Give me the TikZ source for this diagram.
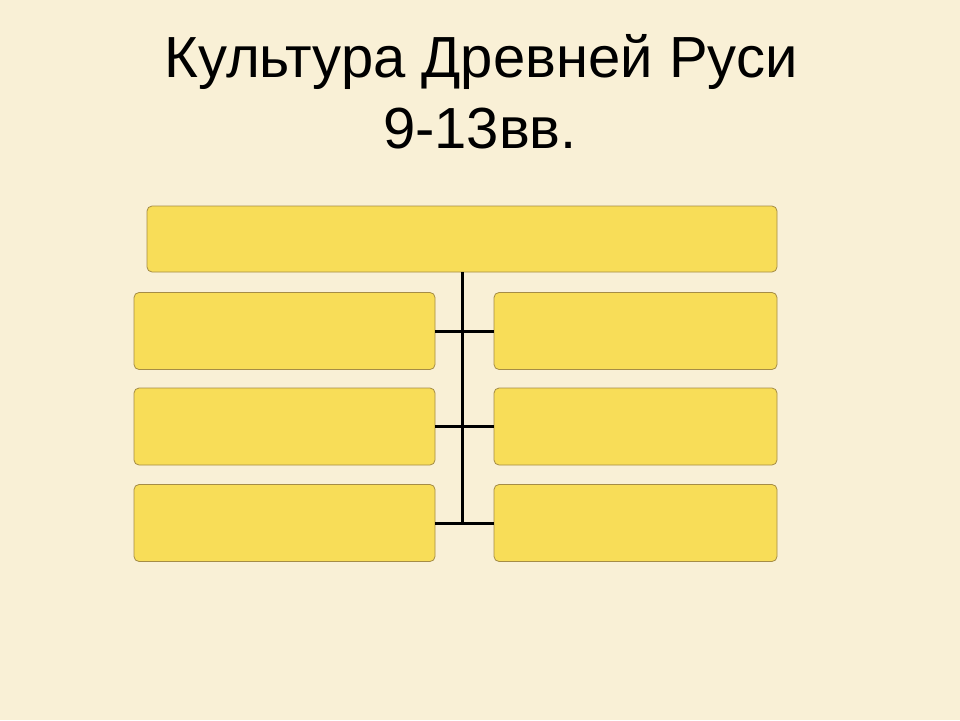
\documentclass[tikz,border=0pt]{standalone}
\usepackage{fontspec}
\setmainfont{Liberation Sans}
\definecolor{parch}{RGB}{249,240,214}
\definecolor{boxfill}{RGB}{248,221,88}
\definecolor{boxline}{RGB}{165,140,70}
\begin{document}
\begin{tikzpicture}[x=1pt,y=-1pt,
  ybox/.style={draw=boxline,line width=0.8pt,fill=boxfill,rounded corners=5pt,inner sep=0pt,outer sep=0pt},
  conn/.style={draw=black,line width=3pt},
  titletext/.style={font=\fontsize{58}{66}\selectfont,inner sep=0pt,anchor=base}]
\fill[parch] (0,0) rectangle (960,720);
\useasboundingbox (0,0) rectangle (960,720);
\node[titletext] (t1) at (481,77) {Культура Древней Руси};
\node[titletext] (t2) at (480,148) {9-13вв.};
\node[ybox,minimum width=630pt,minimum height=66pt] (top) at (462,239) {};
\node[ybox,minimum width=301pt,minimum height=77pt] (l1) at (284.5,331) {};
\node[ybox,minimum width=301pt,minimum height=77pt] (l2) at (284.5,426.5) {};
\node[ybox,minimum width=301pt,minimum height=77pt] (l3) at (284.5,523) {};
\node[ybox,minimum width=283pt,minimum height=77pt] (r1) at (635.5,331) {};
\node[ybox,minimum width=283pt,minimum height=77pt] (r2) at (635.5,426.5) {};
\node[ybox,minimum width=283pt,minimum height=77pt] (r3) at (635.5,523) {};
\coordinate (spineend) at (top.south |- l3.east);
\draw[conn] (top.south) -- ([yshift=1.5pt]spineend);
\draw[conn] (l1.east) -- (r1.west);
\draw[conn] (l2.east) -- (r2.west);
\draw[conn] (l3.east) -- (r3.west);
\end{tikzpicture}
\end{document}
